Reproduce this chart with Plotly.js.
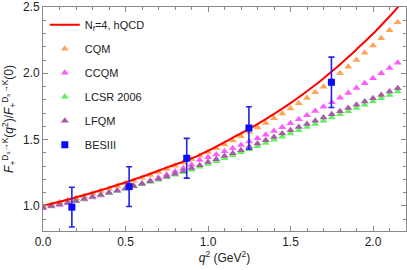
<!DOCTYPE html>
<html>
<head>
<meta charset="utf-8">
<script src="https://cdn.plot.ly/plotly-3.0.1.min.js"></script>
<style>
  html, body { margin: 0; padding: 0; background: #fff; }
  #chart { width: 407px; height: 270px; }
</style>
</head>
<body>
<div id="chart"></div>
<script>
// q^2 grid for the hQCD curve (GeV^2)
const qLine = [0, 0.05, 0.1, 0.15, 0.2, 0.25, 0.3, 0.35, 0.4, 0.45, 0.5, 0.55, 0.6, 0.65, 0.7, 0.75,
  0.8, 0.85, 0.9, 0.95, 1.0, 1.05, 1.1, 1.15, 1.2, 1.25, 1.3, 1.35, 1.4, 1.45, 1.5, 1.55, 1.6,
  1.65, 1.7, 1.75, 1.8, 1.85, 1.9, 1.95, 2.0, 2.05, 2.1, 2.15, 2.2];
const hqcd = [1.000, 1.015, 1.031, 1.047, 1.064, 1.081, 1.099, 1.118, 1.137, 1.157, 1.177, 1.198,
  1.220, 1.242, 1.265, 1.289, 1.312, 1.333, 1.358, 1.385, 1.414, 1.446, 1.480, 1.514, 1.547,
  1.581, 1.617, 1.654, 1.693, 1.733, 1.775, 1.819, 1.864, 1.912, 1.961, 2.013, 2.066, 2.122,
  2.180, 2.238, 2.298, 2.362, 2.428, 2.498, 2.575];

// q^2 grid for the model points
const qPts = [0, 0.05, 0.1, 0.15, 0.2, 0.25, 0.3, 0.35, 0.4, 0.45, 0.5, 0.55, 0.6, 0.65, 0.7, 0.75,
  0.8, 0.85, 0.9, 0.95, 1.0, 1.05, 1.1, 1.15, 1.2, 1.25, 1.3, 1.35, 1.4, 1.45, 1.5, 1.55, 1.6,
  1.65, 1.7, 1.75, 1.8, 1.85, 1.9, 1.95, 2.0, 2.05, 2.1, 2.15];
const cqm = [0.995, 1.010, 1.026, 1.042, 1.058, 1.075, 1.093, 1.112, 1.131, 1.150, 1.170, 1.190,
  1.211, 1.233, 1.255, 1.278, 1.302, 1.327, 1.352, 1.379, 1.406, 1.434, 1.463, 1.493, 1.524,
  1.556, 1.590, 1.624, 1.660, 1.697, 1.735, 1.774, 1.814, 1.856, 1.899, 1.946, 2.000, 2.050,
  2.100, 2.155, 2.210, 2.265, 2.325, 2.385];
const ccqm = [0.982, 0.994, 1.007, 1.020, 1.034, 1.048, 1.063, 1.078, 1.094, 1.111, 1.129, 1.148,
  1.168, 1.189, 1.211, 1.234, 1.258, 1.283, 1.309, 1.345, 1.366, 1.388, 1.411, 1.434, 1.459,
  1.485, 1.510, 1.537, 1.565, 1.593, 1.623, 1.653, 1.684, 1.716, 1.748, 1.782, 1.816, 1.851,
  1.888, 1.925, 1.962, 2.000, 2.040, 2.080];
const lcsr = [0.988, 1.000, 1.012, 1.025, 1.038, 1.052, 1.066, 1.081, 1.096, 1.112, 1.128, 1.145,
  1.162, 1.179, 1.197, 1.215, 1.234, 1.253, 1.273, 1.294, 1.315, 1.337, 1.359, 1.381, 1.404,
  1.427, 1.450, 1.474, 1.498, 1.522, 1.546, 1.570, 1.594, 1.618, 1.642, 1.666, 1.690, 1.714,
  1.738, 1.762, 1.787, 1.812, 1.837, 1.862];
const lfqm = [0.985, 0.998, 1.011, 1.025, 1.039, 1.054, 1.069, 1.084, 1.100, 1.116, 1.133, 1.150,
  1.167, 1.185, 1.203, 1.222, 1.241, 1.262, 1.285, 1.307, 1.330, 1.352, 1.375, 1.397, 1.420,
  1.445, 1.470, 1.495, 1.520, 1.545, 1.570, 1.594, 1.618, 1.642, 1.666, 1.690, 1.714, 1.738,
  1.762, 1.787, 1.812, 1.837, 1.862, 1.887];

// BESIII measurement
const qBes = [0.175, 0.522, 0.871, 1.248, 1.748];
const besVal = [0.99, 1.145, 1.359, 1.587, 1.932];
const besErr = [0.15, 0.15, 0.15, 0.16, 0.19];

function triTrace(name, y, color, rank) {
    return {
        x: qPts, y: y, name: name,
        type: 'scatter', mode: 'markers',
        marker: { symbol: 'triangle-up', size: 7, color: color },
        legendgroup: name, legendrank: rank
    };
}

var data = [
    triTrace('CQM', cqm, '#ffa655', 2),
    triTrace('CCQM', ccqm, '#ff5cff', 3),
    triTrace('LCSR 2006', lcsr, '#5ef25e', 4),
    triTrace('LFQM', lfqm, '#a75ba7', 5),
    {
        x: qLine, y: hqcd, name: 'N<sub>f</sub>=4, hQCD',
        type: 'scatter', mode: 'lines',
        line: { color: '#ff0000', width: 2, shape: 'spline' },
        legendgroup: 'hqcd', legendrank: 1
    },
    {
        x: qBes, y: besVal, name: 'BESIII',
        type: 'scatter', mode: 'markers',
        marker: { symbol: 'square', size: 7, color: '#0a0aff' },
        error_y: { type: 'data', array: besErr, visible: true, color: '#2222e8', thickness: 1.6, width: 3 },
        legendgroup: 'bes', legendrank: 6
    }
];

var axisCommon = {
    showline: true, linecolor: '#888', linewidth: 1,
    mirror: 'allticks', ticks: 'inside', ticklen: 5, tickcolor: '#888',
    showgrid: false, zeroline: false,
    tickfont: { family: 'Liberation Sans, Arial, sans-serif', size: 12, color: '#222' },
    tickformat: '.1f'
};

var layout = {
    width: 407, height: 270,
    margin: { l: 43, r: 1, t: 7, b: 39 },
    paper_bgcolor: '#fff', plot_bgcolor: '#fff',
    font: { family: 'Liberation Sans, Arial, sans-serif', size: 12, color: '#222' },
    xaxis: Object.assign({}, axisCommon, {
        range: [0, 2.2], dtick: 0.5, tick0: 0,
        minor: { dtick: 0.1, ticks: 'inside', ticklen: 3, tickcolor: '#888' },
        title: { text: '<i>q</i><sup>2</sup> (GeV<sup>2</sup>)', standoff: 4,
                 font: { size: 12, color: '#222' } }
    }),
    yaxis: Object.assign({}, axisCommon, {
        range: [0.81, 2.5], dtick: 0.5, tick0: 1.0,
        minor: { dtick: 0.1, ticks: 'inside', ticklen: 3, tickcolor: '#888' },
        title: { text: '<i>F</i><sub>+</sub><sup>D<sub>s</sub>→K</sup>(<i>q</i><sup>2</sup>)/<i>F</i><sub>+</sub><sup>D<sub>s</sub>→K</sup>(0)',
                 standoff: 6, font: { size: 12, color: '#222' } }
    }),
    legend: {
        x: 0.005, y: 0.985, xanchor: 'left', yanchor: 'top',
        bgcolor: 'rgba(0,0,0,0)', font: { size: 11, color: '#222' },
        tracegroupgap: 5, itemwidth: 30
    },
    showlegend: true
};

Plotly.newPlot('chart', data, layout, { displayModeBar: false, staticPlot: true });
</script>
</body>
</html>
